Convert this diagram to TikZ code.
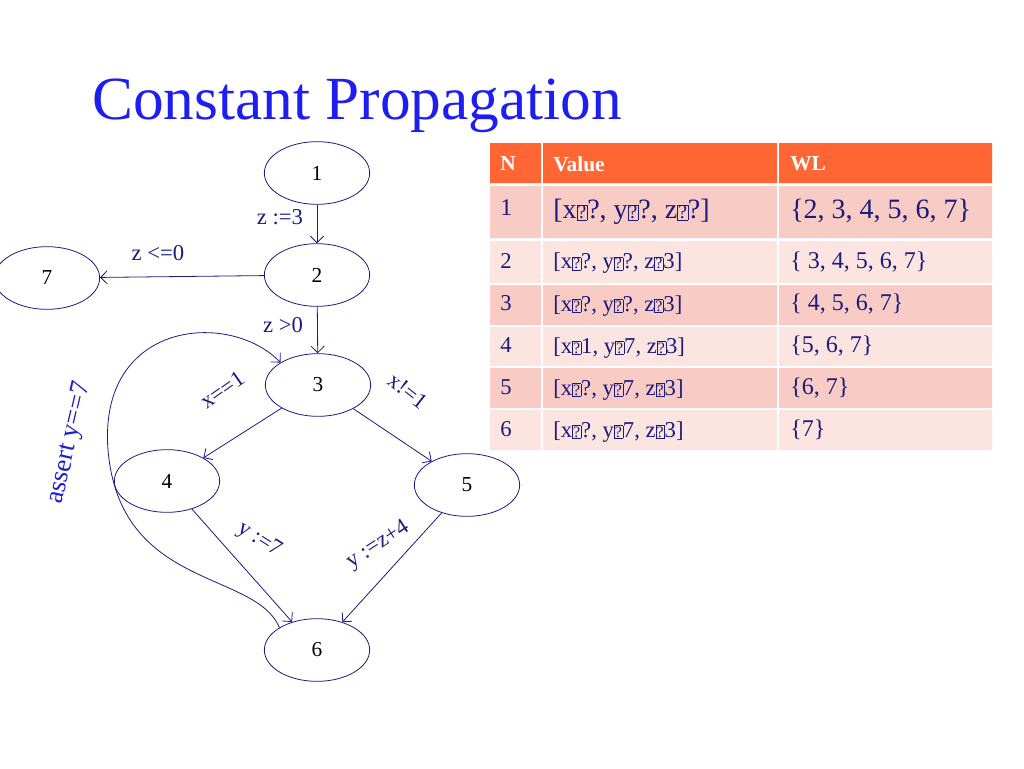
\documentclass[tikz,border=0pt]{standalone}
\usepackage{fontspec}
\setmainfont{Liberation Serif}
\usetikzlibrary{shapes.geometric,arrows.meta}
\definecolor{navy}{HTML}{1A1A80}
\definecolor{ttl}{HTML}{1E1EF0}
\definecolor{hdr}{HTML}{FF6633}
\definecolor{rowA}{HTML}{F8CBC4}
\definecolor{rowB}{HTML}{FCE5E1}
\newcommand\tofu{{\setlength{\fboxsep}{0.4pt}\setlength{\fboxrule}{0.35pt}\fbox{\scalebox{0.7}{?}}}}
\begin{document}
\begin{tikzpicture}[x=0.75pt,y=-0.75pt,
  st/.style={ellipse,draw=navy,line width=0.6pt,minimum width=79pt,minimum height=47pt,font=\fontsize{16}{16}\selectfont,text=black},
  ed/.style={draw=navy,line width=0.6pt,-{Straight Barb[length=5pt]}},
  lbl/.style={font=\fontsize{17}{17}\selectfont,text=navy},
  cell/.style={anchor=north west,inner sep=0pt,text=navy}]
\useasboundingbox (0,0) rectangle (1024,768);
\node[font=\fontsize{46}{46}\selectfont,text=ttl] (title) at (357,106) {Constant Propagation};
\node[st] (n1) at (317,173) {1};
\node[st] (n2) at (317,275) {2};
\node[st] (n3) at (318,385) {3};
\node[st] (n4) at (167,481) {4};
\node[st] (n5) at (467,485) {5};
\node[st] (n6) at (317,650) {6};
\node[st] (n7) at (47,278) {7};
\draw[ed] (n1) -- (n2);
\draw[ed] (n2) -- (n7);
\draw[ed] (n2) -- (n3);
\draw[ed] (n3) -- (n4);
\draw[ed] (n3) -- (n5);
\draw[ed] (n4) -- (n6);
\draw[ed] (n5) -- (n6);
\draw[ed] (n6.north west) .. controls (255,570) and (120,590) .. (108,450) .. controls (98,320) and (230,310) .. (n3.north west);
\node[lbl] (l1) at (280,217) {z :=3};
\node[lbl] (l2) at (158,253) {z <=0};
\node[lbl] (l3) at (283,325) {z >0};
\node[lbl,rotate=35] (l4) at (222,390) {x==1};
\node[lbl,rotate=-38] (l5) at (408,391) {x!=1};
\node[lbl,rotate=-32] (l6) at (259,540) {y :=7};
\node[lbl,rotate=33] (l7) at (378,545) {y :=z+4};
\node[lbl,rotate=77,text=ttl!70!navy,font=\fontsize{20}{20}\selectfont] (l8) at (70,443) {assert y==7};
% table
\fill[hdr] (490,143) rectangle (541,183) (543,143) rectangle (777,183) (779,143) rectangle (992,183);
\foreach \a/\b/\c in {186/238/rowA,241/283/rowB,285/325/rowA,327/366/rowB,368/408/rowA,410/450/rowB}{
  \fill[\c] (490,\a) rectangle (541,\b) (543,\a) rectangle (777,\b) (779,\a) rectangle (992,\b);}
\begin{scope}[every node/.style={cell}]
\node[font=\bfseries\fontsize{16}{16}\selectfont,text=white] (h1) at (500,156) {N};
\node[font=\bfseries\fontsize{16}{16}\selectfont,text=white] (h2) at (553,156) {Value};
\node[font=\bfseries\fontsize{16}{16}\selectfont,text=white] (h3) at (790,156) {WL};
\node[font=\fontsize{18}{18}\selectfont] (r1a) at (500,199) {1};
\node[font=\fontsize{21}{21}\selectfont] (r1b) at (553,199) {[x\tofu?, y\tofu?, z\tofu?]};
\node[font=\fontsize{21}{21}\selectfont] (r1c) at (790,199) {\{2, 3, 4, 5, 6, 7\}};
\foreach \y/\n/\v/\w in {253/2/{[x\tofu?, y\tofu?, z\tofu3]}/{\{ 3, 4, 5, 6, 7\}},
  295/3/{[x\tofu?, y\tofu?, z\tofu3]}/{\{ 4, 5, 6, 7\}},
  337/4/{[x\tofu1, y\tofu7, z\tofu3]}/{\{5, 6, 7\}},
  379/5/{[x\tofu?, y\tofu7, z\tofu3]}/{\{6, 7\}},
  421/6/{[x\tofu?, y\tofu7, z\tofu3]}/{\{7\}}}{
  \node[font=\fontsize{17}{17}\selectfont] (ra\n) at (500,\y) {\n};
  \node[font=\fontsize{17}{17}\selectfont] (rb\n) at (553,\y) {\v};
  \node[font=\fontsize{18}{18}\selectfont] (rc\n) at (790,\y-1) {\w};}
\end{scope}
\end{tikzpicture}
\end{document}
